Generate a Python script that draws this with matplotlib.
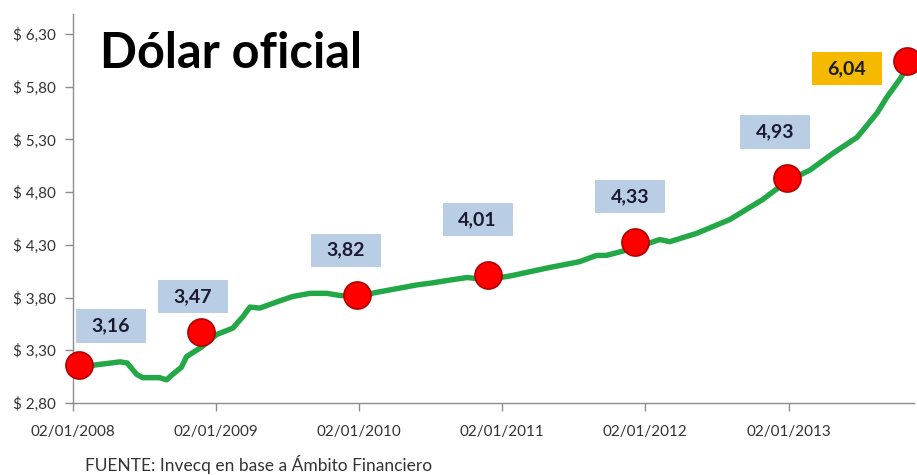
import matplotlib
matplotlib.use("Agg")
import matplotlib.pyplot as plt
import matplotlib.dates as mdates
from matplotlib.patches import Rectangle
from datetime import datetime

plt.rcParams['font.family'] = ['Lato', 'DejaVu Sans']

# cotizacion diaria del dolar oficial (pesos por dolar)
fechas = ["2008-01-17", "2008-02-26", "2008-05-01", "2008-05-19", "2008-06-13",
          "2008-06-28", "2008-08-10", "2008-08-28", "2008-09-12", "2008-10-05",
          "2008-10-18", "2008-11-25", "2009-01-03", "2009-02-13", "2009-03-11",
          "2009-03-29", "2009-04-23", "2009-06-06", "2009-07-16", "2009-08-29",
          "2009-10-11", "2009-11-13", "2009-12-27", "2010-02-16", "2010-04-16",
          "2010-05-29", "2010-07-09", "2010-08-29", "2010-10-04", "2010-11-27",
          "2011-01-29", "2011-04-26", "2011-07-18", "2011-08-31", "2011-09-25",
          "2011-12-06", "2012-02-08", "2012-03-05", "2012-05-13", "2012-08-05",
          "2012-10-28", "2012-12-28", "2013-02-26", "2013-04-26", "2013-06-26",
          "2013-08-16", "2013-09-10", "2013-10-13", "2013-10-31", "2013-11-18"]
dolar = [3.11, 3.16, 3.19, 3.18, 3.07,
         3.04, 3.04, 3.02, 3.07, 3.14,
         3.24, 3.33, 3.45, 3.51, 3.62,
         3.71, 3.70, 3.76, 3.81, 3.84,
         3.84, 3.82, 3.81, 3.85, 3.89,
         3.92, 3.94, 3.97, 3.99, 3.97,
         4.01, 4.08, 4.14, 4.20, 4.20,
         4.27, 4.35, 4.33, 4.41, 4.54,
         4.73, 4.90, 5.01, 5.17, 5.32,
         5.55, 5.70, 5.87, 5.98, 6.04]

# puntos destacados y sus etiquetas
fechas_hito = ["2008-01-17", "2008-11-25", "2009-12-27", "2010-11-27",
               "2011-12-06", "2012-12-28", "2013-10-31"]
valores_hito = [3.16, 3.47, 3.82, 4.01, 4.33, 4.93, 6.04]
fechas_etiqueta = ["2008-04-08", "2008-11-03", "2009-11-29", "2010-10-31",
                   "2011-11-24", "2012-11-28", "2013-05-31"]
altura_etiqueta = [3.53, 3.81, 4.25, 4.54, 4.76, 5.37, 5.97]

ticks_x = ["2008-01-02", "2009-01-02", "2010-01-02", "2011-01-02",
           "2012-01-02", "2013-01-02"]
ticks_y = [2.80, 3.30, 3.80, 4.30, 4.80, 5.30, 5.80, 6.30]

def a_fecha(lista):
    return [datetime.strptime(s, "%Y-%m-%d") for s in lista]

fig = plt.figure(figsize=(9.17, 4.75), dpi=100)
ax = fig.add_axes([0.0796, 0.1516, 0.917, 0.819])

ax.plot(a_fecha(fechas), dolar, color='#22a847', linewidth=3.9,
        solid_capstyle='round', solid_joinstyle='round', zorder=2)
ax.plot(a_fecha(fechas_hito), valores_hito, 'o', markersize=19.5,
        markerfacecolor='#ff0000', markeredgecolor='#b00000',
        markeredgewidth=1.2, clip_on=False, zorder=3)

# cajas de etiqueta: ~180 dias de ancho, 0.31 de alto
ancho_caja = 179
alto_caja = 0.315
for i, (f, v, h) in enumerate(zip(a_fecha(fechas_etiqueta), valores_hito, altura_etiqueta)):
    fondo = '#f5b900' if i == len(valores_hito) - 1 else '#b9cde5'
    xc = mdates.date2num(f)
    ax.add_patch(Rectangle((xc - ancho_caja / 2, h - alto_caja / 2),
                           ancho_caja, alto_caja, facecolor=fondo,
                           edgecolor='none', zorder=4))
    ax.text(xc, h, f"{v:.2f}".replace('.', ','),
            ha='center', va='center', fontsize=14, fontweight='bold',
            color='#1a1a30', zorder=5)

ax.set_xlim(datetime(2008, 1, 2), datetime(2013, 11, 18))
ax.set_ylim(2.80, 6.49)
ax.set_xticks(a_fecha(ticks_x))
ax.xaxis.set_major_formatter(mdates.DateFormatter('%d/%m/%Y'))
ax.set_yticks(ticks_y)
ax.set_yticklabels([("$ %.2f" % t).replace('.', ',') for t in ticks_y])

for s in ['top', 'right']:
    ax.spines[s].set_visible(False)
for s in ['left', 'bottom']:
    ax.spines[s].set_color('#8c8c8c')
    ax.spines[s].set_linewidth(1.0)
ax.tick_params(axis='both', colors='#8c8c8c', length=6, width=1.0,
               labelcolor='#333333', labelsize=11)
ax.tick_params(axis='x', pad=10)
ax.tick_params(axis='y', pad=6)

fig.text(0.109, 0.887, "Dólar oficial", fontsize=35, fontweight='bold',
         color='#000000', va='center', ha='left')
fig.text(0.093, 0.022, "FUENTE: Invecq en base a Ámbito Financiero",
         fontsize=12.5, color='#333333', va='center', ha='left')

fig.savefig("out.png", dpi=100)
